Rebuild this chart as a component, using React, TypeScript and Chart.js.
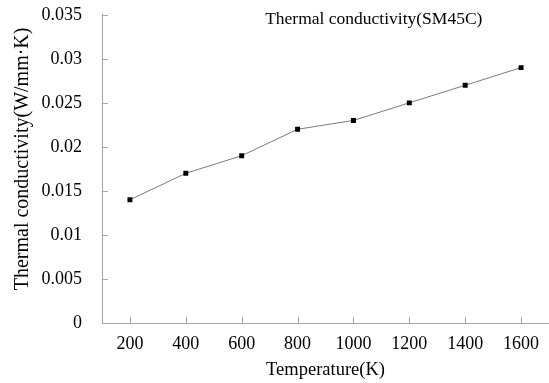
import React, { useEffect, useRef } from "react";
import { Chart, registerables } from "chart.js";

Chart.register(...registerables);

const categories = ["200", "400", "600", "800", "1000", "1200", "1400", "1600"];
const conductivity = [0.014, 0.017, 0.019, 0.022, 0.023, 0.025, 0.027, 0.029];
const chartTitle = "Thermal conductivity(SM45C)";
const xTitle = "Temperature(K)";
const yTitle = "Thermal conductivity(W/mm·K)";

const FONT = "Liberation Serif";
const AXIS_COLOR = "#a6a6a6";

Chart.defaults.font.family = FONT;
Chart.defaults.color = "#000";

const insideTicks = {
  id: "insideTicks",
  afterDraw(chart: any) {
    const ctx = chart.ctx;
    const xs = chart.scales.x;
    const ys = chart.scales.y;
    const { left, bottom, right, top } = chart.chartArea;
    ctx.save();
    ctx.strokeStyle = AXIS_COLOR;
    ctx.lineWidth = 1;
    ctx.beginPath();
    xs.ticks.forEach((_t: any, i: number) => {
      const px = Math.round(xs.getPixelForTick(i)) + 0.5;
      ctx.moveTo(px, bottom);
      ctx.lineTo(px, bottom - 6);
    });
    ys.ticks.forEach((_t: any, i: number) => {
      const py = Math.round(ys.getPixelForTick(i)) + 0.5;
      ctx.moveTo(left, py);
      ctx.lineTo(left + 6, py);
    });
    ctx.stroke();
    ctx.fillStyle = "#000";
    ctx.font = "17.5px " + FONT;
    ctx.textAlign = "center";
    ctx.textBaseline = "middle";
    ctx.fillText(chartTitle, left + (right - left) * 0.608, 19);
    // y axis title
    ctx.font = "20px " + FONT;
    ctx.translate(23, (top + bottom) / 2 - 10);
    ctx.rotate(-Math.PI / 2);
    ctx.fillText(yTitle, 0, 0);
    ctx.restore();
  },
};

export default function App() {
  const ref = useRef<HTMLCanvasElement>(null);
  useEffect(() => {
    if (!ref.current) return;
    const chart = new Chart(ref.current, {
      type: "line",
      data: {
        labels: categories,
        datasets: [
          {
            data: conductivity,
            borderColor: "#7a7a7a",
            borderWidth: 1,
            pointStyle: "rect",
            pointRadius: 3.5,
            pointBackgroundColor: "#000",
            pointBorderColor: "#000",
            pointBorderWidth: 0,
            tension: 0,
          },
        ],
      },
      plugins: [insideTicks],
      options: {
        animation: false,
        responsive: false,
        maintainAspectRatio: false,
        layout: { autoPadding: false, padding: { top: 0, right: 0, left: 0, bottom: 0 } },
        plugins: {
          legend: { display: false },
          title: { display: false },
          tooltip: { enabled: false },
        },
        scales: {
          x: {
            type: "category",
            offset: true,
            grid: { display: false, offset: false, drawTicks: true, tickLength: 10 },
            border: { display: true, color: AXIS_COLOR, width: 1 },
            ticks: {
              color: "#000",
              font: { family: FONT, size: 18 },
              padding: 0,
              maxRotation: 0,
              autoSkip: false,
            },
            title: {
              display: true,
              text: xTitle,
              color: "#000",
              font: { family: FONT, size: 18.5 },
              padding: { top: 0, bottom: 2 },
            },
            afterFit(scale: any) {
              scale.height = 60;
              scale.paddingLeft = 0;
              scale.paddingRight = 0;
            },
          },
          y: {
            min: 0,
            max: 0.035,
            grid: { display: false, drawTicks: true, tickLength: 16 },
            border: { display: true, color: AXIS_COLOR, width: 1 },
            ticks: {
              stepSize: 0.005,
              color: "#000",
              font: { family: FONT, size: 18 },
              padding: 4,
              callback: (v: any) => String(Number(Number(v).toFixed(3))),
            },
            title: { display: false },
            afterFit(scale: any) {
              scale.width = 102;
            },
          },
        },
      },
    });
    return () => chart.destroy();
  }, []);
  return (
    <div style={{ position: "fixed", left: 0, top: 0, width: 549, height: 383, background: "#fff" }}>
      <canvas ref={ref} width={549} height={383} style={{ width: 549, height: 383 }} />
    </div>
  );
}
